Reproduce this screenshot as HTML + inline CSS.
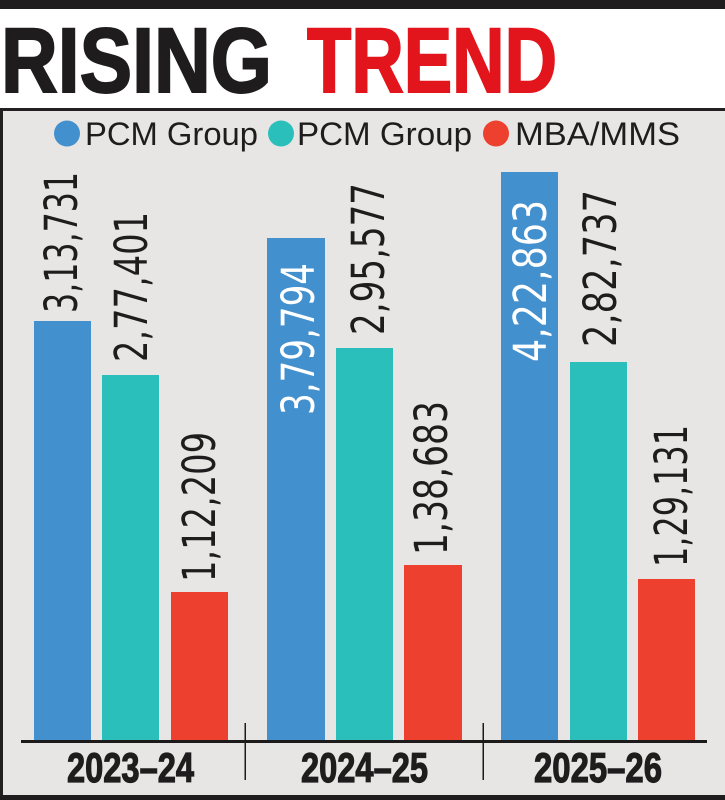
<!DOCTYPE html>
<html>
<head>
<meta charset="utf-8">
<style>
  html,body{margin:0;padding:0;background:#fff;}
  svg{display:block;}
</style>
</head>
<body>
<svg width="725" height="800" viewBox="0 0 725 800" xmlns="http://www.w3.org/2000/svg">
  <!-- background -->
  <rect x="0" y="0" width="725" height="800" fill="#ffffff"/>
  <rect x="0" y="0" width="725" height="9" fill="#1f1d1e"/>

  <!-- Title -->
  <text x="1" y="92" font-family="Liberation Sans, DejaVu Sans, sans-serif" font-weight="bold" font-size="92" fill="#1e1c1d" stroke="#1e1c1d" stroke-width="2" textLength="271" lengthAdjust="spacingAndGlyphs">RISING</text>
  <text x="307" y="92" font-family="Liberation Sans, DejaVu Sans, sans-serif" font-weight="bold" font-size="92" fill="#e3151c" stroke="#e3151c" stroke-width="2" textLength="250" lengthAdjust="spacingAndGlyphs">TREND</text>

  <!-- Panel -->
  <rect x="0" y="109" width="725" height="691" fill="#e8e6e4"/>
  <rect x="0" y="108" width="725" height="3" fill="#222021"/>
  <rect x="0" y="108" width="3" height="692" fill="#222021"/>
  <rect x="0" y="795" width="725" height="5" fill="#1f1d1e"/>

  <!-- Legend -->
  <circle cx="67" cy="133.5" r="13" fill="#4390cf"/>
  <text x="85" y="145" font-family="Liberation Sans, sans-serif" font-size="32" fill="#1e1c1d" textLength="173" lengthAdjust="spacingAndGlyphs">PCM Group</text>
  <circle cx="281" cy="133.5" r="13" fill="#2bbfbb"/>
  <text x="297" y="145" font-family="Liberation Sans, sans-serif" font-size="32" fill="#1e1c1d" textLength="175" lengthAdjust="spacingAndGlyphs">PCM Group</text>
  <circle cx="496" cy="133.5" r="13" fill="#ee402e"/>
  <text x="515" y="145" font-family="Liberation Sans, sans-serif" font-size="32" fill="#1e1c1d" textLength="165" lengthAdjust="spacingAndGlyphs">MBA/MMS</text>

  <!-- Bars group 1 -->
  <rect x="34" y="321" width="57" height="420" fill="#4390cf"/>
  <rect x="102" y="375" width="57" height="366" fill="#2bbfbb"/>
  <rect x="171" y="592" width="57" height="149" fill="#ee402e"/>
  <!-- Bars group 2 -->
  <rect x="267" y="238" width="58" height="503" fill="#4390cf"/>
  <rect x="336" y="348" width="57" height="393" fill="#2bbfbb"/>
  <rect x="404" y="565" width="58" height="176" fill="#ee402e"/>
  <!-- Bars group 3 -->
  <rect x="501" y="172" width="57" height="569" fill="#4390cf"/>
  <rect x="570" y="362" width="57" height="379" fill="#2bbfbb"/>
  <rect x="638" y="579" width="57" height="162" fill="#ee402e"/>

  <!-- Value labels -->
  <g font-family="DejaVu Sans, Liberation Sans, sans-serif" font-size="45">
    <text transform="translate(77,313) rotate(-90)" fill="#1e1c1d" textLength="141" lengthAdjust="spacingAndGlyphs">3,13,731</text>
    <text transform="translate(147,362) rotate(-90)" fill="#1e1c1d" textLength="150" lengthAdjust="spacingAndGlyphs">2,77,401</text>
    <text transform="translate(215,582) rotate(-90)" fill="#1e1c1d" textLength="150" lengthAdjust="spacingAndGlyphs">1,12,209</text>
    <text transform="translate(314,415) rotate(-90)" fill="#ffffff" textLength="152" lengthAdjust="spacingAndGlyphs">3,79,794</text>
    <text transform="translate(384,335) rotate(-90)" fill="#1e1c1d" textLength="152" lengthAdjust="spacingAndGlyphs">2,95,577</text>
    <text transform="translate(447,555) rotate(-90)" fill="#1e1c1d" textLength="154" lengthAdjust="spacingAndGlyphs">1,38,683</text>
    <text transform="translate(546,362) rotate(-90)" fill="#ffffff" textLength="162" lengthAdjust="spacingAndGlyphs">4,22,863</text>
    <text transform="translate(616,347) rotate(-90)" fill="#1e1c1d" textLength="157" lengthAdjust="spacingAndGlyphs">2,82,737</text>
    <text transform="translate(687,567) rotate(-90)" fill="#1e1c1d" textLength="142" lengthAdjust="spacingAndGlyphs">1,29,131</text>
  </g>

  <!-- Axis -->
  <rect x="21" y="740" width="686" height="3" fill="#1c1a1b"/>
  <rect x="244.5" y="723" width="1.5" height="57" fill="#1c1a1b"/>
  <rect x="482.5" y="723" width="1.5" height="57" fill="#1c1a1b"/>

  <!-- Year labels -->
  <g font-family="Liberation Sans, DejaVu Sans, sans-serif" font-weight="bold" font-size="42" fill="#1e1c1d" stroke="#1e1c1d" stroke-width="1.2">
    <text x="67" y="782" textLength="127" lengthAdjust="spacingAndGlyphs">2023–24</text>
    <text x="301" y="782" textLength="127" lengthAdjust="spacingAndGlyphs">2024–25</text>
    <text x="534" y="782" textLength="128" lengthAdjust="spacingAndGlyphs">2025–26</text>
  </g>
</svg>
</body>
</html>
